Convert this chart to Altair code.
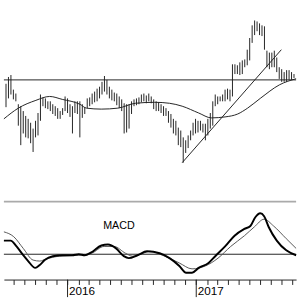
import altair as alt
import pandas as pd

# Weekly price bars (high / low)
bar_dates = pd.date_range("2015-07-10", periods=118, freq="7D").strftime("%Y-%m-%d").tolist()
highs = [59.0, 60.75, 61.25, 57.5, 56.5, 53.75, 53.25, 52.0, 50.75, 50.0,
         49.0, 47.5, 49.5, 51.5, 56.25, 55.5, 55.25, 54.5, 54.5, 53.75,
         53.25, 52.75, 52.0, 52.75, 55.75, 55.25, 53.75, 53.25, 54.5, 54.5,
         54.5, 53.75, 53.0, 55.25, 55.5, 56.5, 57.0, 57.75, 58.25, 59.5,
         61.0, 60.0, 58.25, 57.5, 56.75, 56.5, 55.75, 55.0, 54.0, 53.75,
         53.75, 54.5, 55.0, 55.25, 55.5, 56.25, 56.5, 56.0, 56.5, 55.75,
         55.0, 54.5, 54.25, 53.75, 53.25, 52.75, 52.0, 51.25, 50.0, 49.5,
         47.75, 47.0, 45.25, 44.5, 45.75, 47.0, 49.0, 50.0, 49.5, 49.5,
         48.75, 48.75, 50.0, 51.5, 54.5, 56.25, 55.75, 55.75, 56.25, 57.5,
         57.75, 57.5, 64.0, 64.0, 63.75, 64.5, 65.0, 65.25, 67.75, 70.75,
         74.0, 75.25, 75.0, 74.5, 74.0, 73.75, 67.5, 67.0, 67.0, 67.5,
         65.75, 63.25, 62.75, 62.0, 62.5, 62.5, 62.0, 61.5]
lows = [53.0, 55.25, 56.25, 55.0, 54.5, 48.25, 43.25, 46.25, 45.25, 45.0,
        43.75, 41.5, 45.25, 45.75, 49.5, 53.25, 52.75, 52.5, 52.0, 51.25,
        50.75, 50.0, 50.0, 51.0, 52.0, 51.5, 50.5, 46.25, 51.5, 51.25,
        45.25, 50.25, 51.25, 52.75, 53.25, 53.75, 54.25, 54.5, 55.25, 56.25,
        57.0, 56.25, 55.25, 54.75, 54.5, 53.5, 52.75, 52.0, 46.25, 46.5,
        47.5, 51.25, 53.25, 53.5, 53.75, 54.25, 54.5, 54.0, 54.5, 54.0,
        52.5, 52.0, 52.0, 51.5, 50.75, 50.75, 49.0, 47.75, 46.25, 45.75,
        43.25, 42.75, 38.75, 41.25, 42.5, 44.5, 45.75, 46.25, 46.5, 47.0,
        46.5, 44.5, 45.75, 47.5, 48.25, 53.25, 53.75, 54.5, 54.5, 54.5,
        55.0, 54.5, 55.75, 61.5, 61.5, 61.25, 61.5, 63.25, 63.75, 65.0,
        69.5, 71.5, 72.5, 71.5, 71.25, 67.75, 63.25, 62.75, 63.25, 63.25,
        62.0, 60.25, 59.5, 59.5, 59.5, 60.0, 60.0, 60.5]

# Moving average
ma_dates = ["2015-07-04", "2015-08-14", "2015-10-03", "2015-11-11", "2015-12-17",
            "2016-02-05", "2016-02-24", "2016-04-06", "2016-05-23", "2016-07-12",
            "2016-09-05", "2016-10-17", "2016-11-22", "2017-01-08", "2017-02-13",
            "2017-03-24", "2017-04-29", "2017-05-27", "2017-07-02", "2017-08-26",
            "2017-10-12"]
ma_values = [50.0, 52.75, 54.75, 55.75, 55.0,
             53.75, 52.75, 52.5, 52.75, 54.0,
             54.25, 54.0, 53.25, 51.5, 50.25,
             50.5, 51.25, 52.75, 55.25, 58.75,
             60.3]

# Trend line and horizontal level
trend_dates = ["2016-11-22", "2017-08-31"]
trend_values = [38.75, 67.75]
level = [60.0]

# MACD and signal
macd_dates = ["2015-07-04", "2015-07-23", "2015-08-09", "2015-08-28", "2015-09-11",
              "2015-10-01", "2015-10-14", "2015-10-28", "2015-11-20", "2015-12-17",
              "2016-01-14", "2016-02-02", "2016-02-19", "2016-03-09", "2016-04-06",
              "2016-04-25", "2016-05-18", "2016-06-09", "2016-06-23", "2016-07-18",
              "2016-08-14", "2016-09-19", "2016-10-17", "2016-11-14", "2016-12-03",
              "2016-12-20", "2017-01-08", "2017-02-05", "2017-02-24", "2017-03-24",
              "2017-04-20", "2017-05-18", "2017-06-04", "2017-06-18", "2017-07-02",
              "2017-07-13", "2017-07-26", "2017-08-18", "2017-09-14", "2017-10-12"]
macd_values = [0.70, 0.70, 0.40, -0.05, -0.35,
               -0.70, -0.55, -0.30, -0.10, -0.05,
               -0.05, 0.0, -0.05, 0.10, 0.45,
               0.50, 0.30, -0.10, -0.20, -0.05,
               0.15, 0.05, -0.20, -0.60, -0.95,
               -0.95, -0.70, -0.45, -0.10, 0.40,
               0.95, 1.30, 1.45, 1.90, 2.10,
               1.95, 1.40, 0.70, 0.20, -0.05]
signal_dates = ["2015-07-04", "2015-08-01", "2015-08-28", "2015-09-25", "2015-10-14",
                "2015-10-31", "2015-12-09", "2016-02-02", "2016-03-09", "2016-04-14",
                "2016-05-12", "2016-06-14", "2016-07-04", "2016-08-03", "2016-08-23",
                "2016-09-27", "2016-11-14", "2016-12-20", "2017-01-27", "2017-03-04",
                "2017-04-09", "2017-05-18", "2017-06-15", "2017-07-13", "2017-08-09",
                "2017-09-14", "2017-10-12"]
signal_values = [1.15, 0.90, 0.30, -0.30, -0.35,
                 -0.25, -0.10, -0.05, 0.05, 0.40,
                 0.40, 0.05, -0.10, 0.05, 0.15,
                 -0.05, -0.45, -0.75, -0.60, -0.20,
                 0.40, 0.95, 1.40, 1.80, 1.45,
                 0.80, 0.30]

year_ticks = ["2016-01-01", "2017-01-01"]
label_text = ["MACD"]
label_dates = ["2016-05-26"]
label_values = [1.45]

W = 300
TOP_H = 202
BOT_H = 80

xscale = alt.Scale(domain=[alt.DateTime(year=2015, month=7, date=4),
                           alt.DateTime(year=2017, month=10, date=12)])

bars_df = pd.DataFrame({"date": bar_dates, "high": highs, "low": lows})
ma_df = pd.DataFrame({"date": ma_dates, "v": ma_values})
trend_df = pd.DataFrame({"date": trend_dates, "v": trend_values})
level_df = pd.DataFrame({"v": level})
macd_df = pd.DataFrame({"date": macd_dates, "v": macd_values})
sig_df = pd.DataFrame({"date": signal_dates, "v": signal_values})
yt_df = pd.DataFrame({"date": year_ticks})
lab_df = pd.DataFrame({"date": label_dates, "v": label_values, "t": label_text})

yscale_top = alt.Scale(domain=[29, 79.5], nice=False, zero=False)
yscale_bot = alt.Scale(domain=[-1.3, 2.7], nice=False, zero=False)

bars = alt.Chart(bars_df).mark_rule(color="#222", strokeWidth=1).encode(
    x=alt.X("date:T", scale=xscale, axis=None),
    y=alt.Y("high:Q", scale=yscale_top, axis=None),
    y2="low:Q",
)
ma = alt.Chart(ma_df).mark_line(color="#222", strokeWidth=1, interpolate="monotone").encode(
    x=alt.X("date:T", scale=xscale, axis=None),
    y=alt.Y("v:Q", scale=yscale_top, axis=None),
)
trend = alt.Chart(trend_df).mark_line(color="#222", strokeWidth=1).encode(
    x=alt.X("date:T", scale=xscale, axis=None),
    y=alt.Y("v:Q", scale=yscale_top, axis=None),
)
lvl = alt.Chart(level_df).mark_rule(color="#222", strokeWidth=1).encode(
    y=alt.Y("v:Q", scale=yscale_top, axis=None),
)
top = alt.layer(bars, ma, trend, lvl).properties(width=W, height=TOP_H)

sep = alt.Chart(level_df).mark_rule(color="#aaaaaa", strokeWidth=2).encode(
    y=alt.value(0)
)
zero = alt.Chart(pd.DataFrame({"v": [0.0]})).mark_rule(color="#222", strokeWidth=1).encode(
    y=alt.Y("v:Q", scale=yscale_bot, axis=None),
)
macd = alt.Chart(macd_df).mark_line(color="black", strokeWidth=2, interpolate="monotone").encode(
    x=alt.X("date:T", scale=xscale,
            axis=alt.Axis(tickCount={"interval": "month", "step": 1},
                          labelExpr="month(datum.value) == 0 ? timeFormat(datum.value, '%Y') : ''",
                          labelAlign="left", labelBaseline="top", labelPadding=1,
                          labelOffset=1, labelFontSize=12, labelFont="Liberation Sans",
                          labelColor="black", labelOverlap=False, labelFlush=False,
                          labelBound=False, tickSize=5, tickColor="#222",
                          domainColor="#222", grid=False, title=None)),
    y=alt.Y("v:Q", scale=yscale_bot, axis=None),
)
sig = alt.Chart(sig_df).mark_line(color="#555", strokeWidth=1, interpolate="monotone").encode(
    x=alt.X("date:T", scale=xscale),
    y=alt.Y("v:Q", scale=yscale_bot, axis=None),
)
yticks = alt.Chart(yt_df).mark_rule(color="#222", strokeWidth=1).encode(
    x=alt.X("date:T", scale=xscale),
    y=alt.value(BOT_H),
    y2=alt.value(BOT_H + 18),
)
lab = alt.Chart(lab_df).mark_text(font="Liberation Sans", fontSize=11, color="black",
                                  align="center", baseline="middle").encode(
    x=alt.X("date:T", scale=xscale),
    y=alt.Y("v:Q", scale=yscale_bot, axis=None),
    text="t:N",
)
bottom = alt.layer(zero, sig, macd, yticks, lab, sep).properties(width=W, height=BOT_H)

chart = alt.vconcat(top, bottom, spacing=0).properties(padding=0).configure_view(stroke=None)

chart.save("out.html", embed_options={"renderer": "svg", "actions": False})
